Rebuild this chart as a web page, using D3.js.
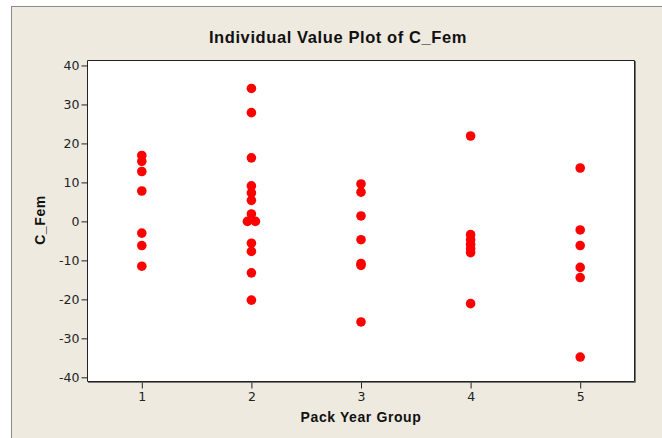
<!DOCTYPE html>
<html lang="en">
<head>
<meta charset="utf-8">
<style>
  body { margin: 0; background: #fff; }
  svg { display: block; }
  .tick text { font-family: "DejaVu Sans", sans-serif; font-size: 12.5px; fill: #222; }
  .tick line { stroke: #222; }
  .domain { display: none; }
  .lbl { font-family: "Liberation Sans", Arial, sans-serif; font-weight: bold; fill: #111; }
</style>
</head>
<body>
<script src="https://cdn.jsdelivr.net/npm/d3@7"></script>
<script>

var groups = [1, 2, 3, 4, 5];

var group1 = [16.9, 15.4, 12.8, 7.8, -3.0, -6.2, -11.5];
var group2 = [34.1, 27.9, 16.3, 9.1, 7.3, 5.4, 1.9, 0, 0, -5.6, -7.7, -13.2, -20.2];
var group3 = [9.6, 7.5, 1.4, -4.7, -10.8, -11.3, -25.8];
var group4 = [21.9, -3.4, -4.7, -5.9, -7.0, -8.0, -21.1];
var group5 = [13.7, -2.2, -6.2, -11.8, -14.4, -34.8];

var yTicks = [-40, -30, -20, -10, 0, 10, 20, 30, 40];

var values = [group1, group2, group3, group4, group5];

var W = 662, H = 438;
var plot = {left: 87, top: 60, right: 635, bottom: 382};

var x = d3.scaleLinear().domain([0.5, 5.5]).range([plot.left, plot.right]);
var y = d3.scaleLinear().domain([-41.2, 41.4]).range([plot.bottom, plot.top]);

var svg = d3.select("body").append("svg")
  .attr("width", W)
  .attr("height", H);

// outer panel
svg.append("rect")
  .attr("x", 11.5).attr("y", 6.5)
  .attr("width", W).attr("height", H)
  .attr("fill", "#eeeae0")
  .attr("stroke", "#8a8a8a");

svg.append("rect")
  .attr("x", plot.left).attr("y", plot.top)
  .attr("width", plot.right - plot.left)
  .attr("height", plot.bottom - plot.top)
  .attr("fill", "#fff");

// points, ties spread sideways
var points = [];
values.forEach(function(vals, i) {
  vals.forEach(function(v, j) {
    var ties = vals.filter(function(w) { return w === v; }).length;
    var k = vals.slice(0, j).filter(function(w) { return w === v; }).length;
    points.push({g: groups[i], v: v, dx: ties > 1 ? (k - (ties - 1) / 2) * 8 : 0});
  });
});

svg.selectAll(".dot")
  .data(points)
  .enter().append("circle")
  .attr("class", "dot")
  .attr("r", 4.8)
  .attr("cx", function(d) { return x(d.g) + d.dx; })
  .attr("cy", function(d) { return y(d.v); })
  .attr("fill", "#ff0000");

// frame
svg.append("path")
  .attr("d", "M" + (plot.left + 0.5) + "," + (plot.top + 0.5) + "H" + (plot.right - 0.5) +
    "V" + (plot.bottom - 0.5) + "H" + (plot.left + 0.5) + "Z")
  .attr("fill", "none")
  .attr("stroke", "#222");
svg.append("path")
  .attr("d", "M" + (plot.right + 0.5) + "," + (plot.top + 1) + "V" + (plot.bottom + 0.5) +
    "H" + (plot.left + 1))
  .attr("fill", "none")
  .attr("stroke", "#777");

var fmt = function(d) { return String(d); };

svg.append("g")
  .attr("class", "y axis")
  .attr("transform", "translate(" + (plot.left + 0.5) + ",0)")
  .call(d3.axisLeft(y).tickValues(yTicks).tickSize(6).tickPadding(2).tickFormat(fmt));

svg.append("g")
  .attr("class", "x axis")
  .attr("transform", "translate(0," + (plot.bottom + 0.5) + ")")
  .call(d3.axisBottom(x).tickValues(groups).tickSize(6).tickPadding(4).tickFormat(fmt));

svg.append("text")
  .attr("class", "lbl")
  .attr("x", 338)
  .attr("y", 43)
  .attr("text-anchor", "middle")
  .style("font-size", "16.5px")
  .style("letter-spacing", "0.6px")
  .text("Individual Value Plot of C_Fem");

svg.append("text")
  .attr("class", "lbl")
  .attr("x", 361)
  .attr("y", 422)
  .attr("text-anchor", "middle")
  .style("font-size", "14px")
  .style("letter-spacing", "0.6px")
  .text("Pack Year Group");

svg.append("text")
  .attr("class", "lbl")
  .attr("transform", "translate(45,220) rotate(-90)")
  .attr("text-anchor", "middle")
  .style("font-size", "14px")
  .style("letter-spacing", "0.6px")
  .text("C_Fem");

</script>
</body>
</html>
